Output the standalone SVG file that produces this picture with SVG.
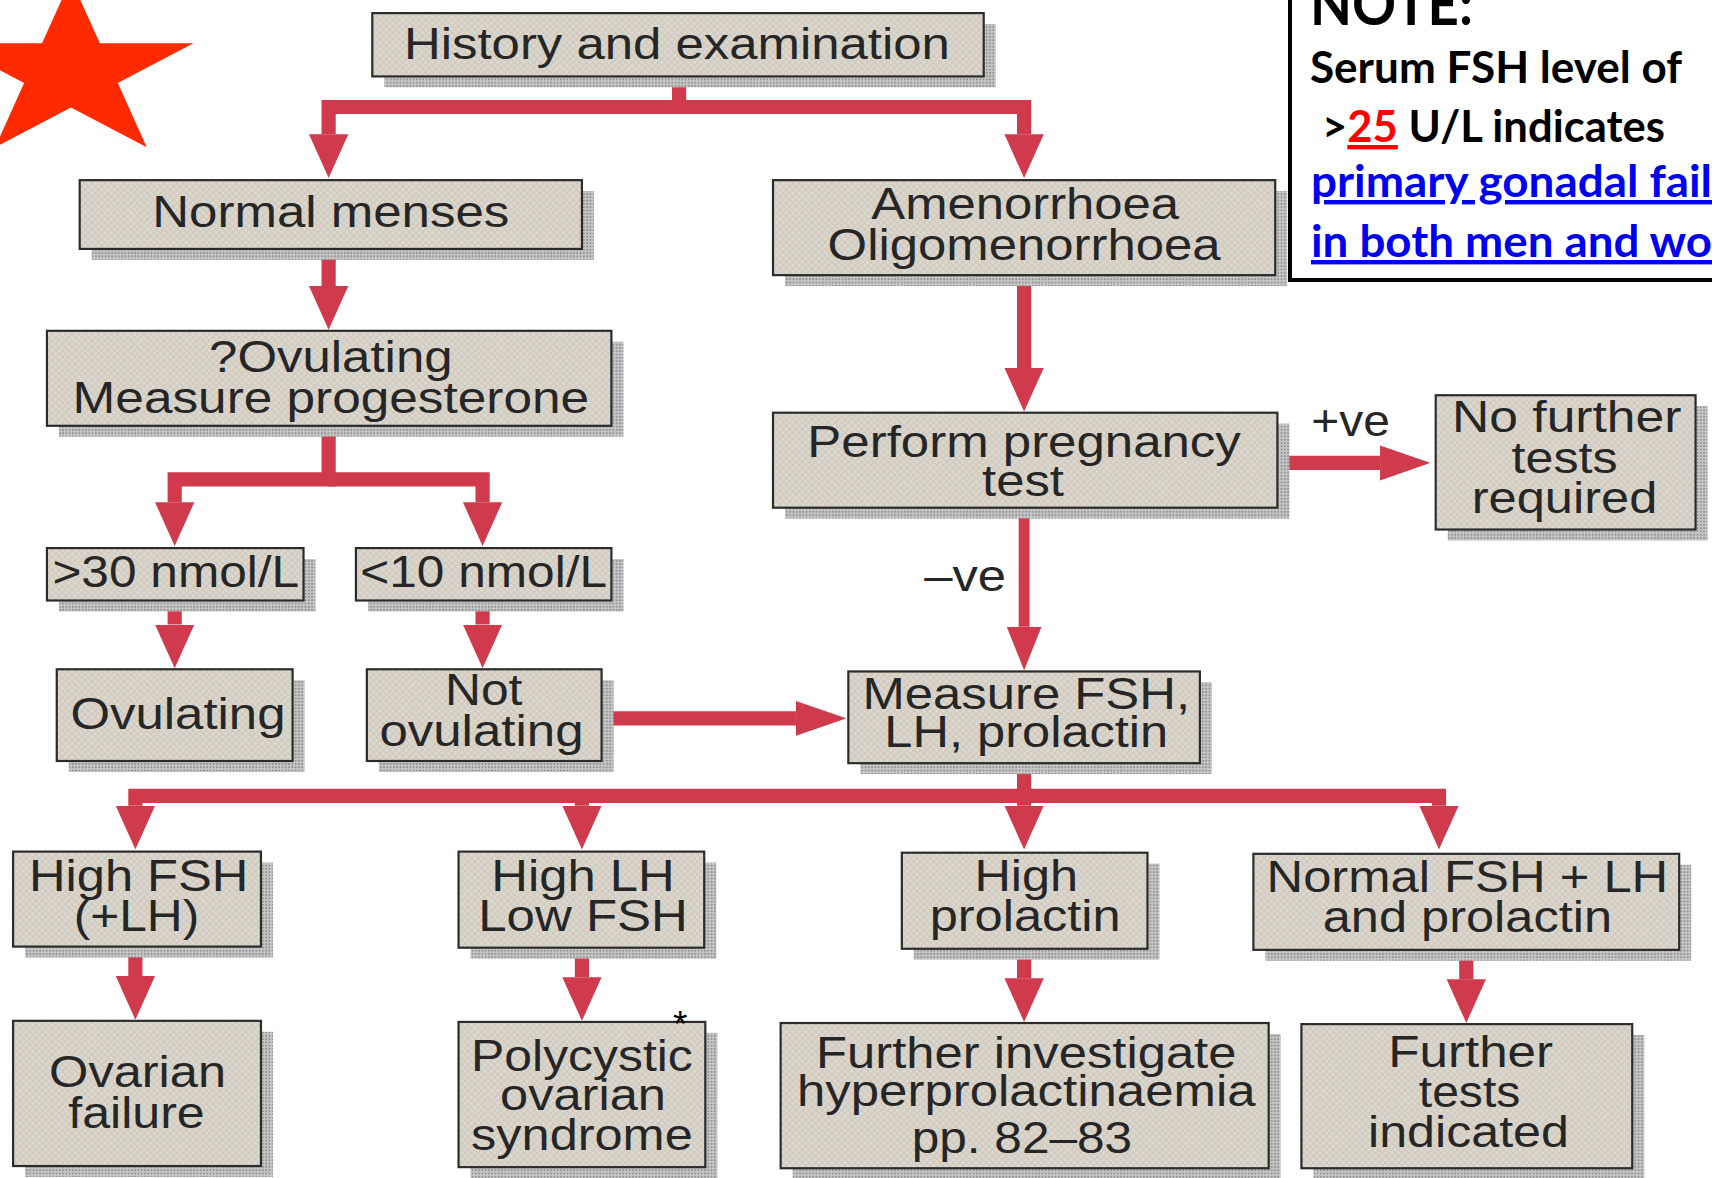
<svg xmlns="http://www.w3.org/2000/svg" width="1712" height="1178" viewBox="0 0 1712 1178">
<defs>
  <pattern id="hatch" width="6" height="6" patternUnits="userSpaceOnUse">
    <rect width="6" height="6" fill="#ddd8cf"/>
    <path d="M0,6 L6,0 M0,0 L6,6" stroke="#cdc7bb" stroke-width="1"/>
  </pattern>
  <pattern id="dots" width="3" height="3" patternUnits="userSpaceOnUse">
    <rect width="3" height="3" fill="#c4c4c4"/>
    <rect width="1.5" height="1.5" fill="#8f8f8f"/>
  </pattern>
  <marker id="ah" markerUnits="userSpaceOnUse" markerWidth="40" markerHeight="38" viewBox="0 0 40 38" refX="0" refY="19" orient="auto">
    <path d="M0,1 L40,19 L0,37 z" fill="#cf3a4c"/>
  </marker>
  <marker id="ahh" markerUnits="userSpaceOnUse" markerWidth="46" markerHeight="34" viewBox="0 0 46 34" refX="0" refY="17" orient="auto">
    <path d="M0,1 L46,17 L0,33 z" fill="#cf3a4c"/>
  </marker>
  <marker id="ahs" markerUnits="userSpaceOnUse" markerWidth="40" markerHeight="34" viewBox="0 0 40 34" refX="0" refY="17" orient="auto">
    <path d="M0,1 L40,17 L0,33 z" fill="#cf3a4c"/>
  </marker>
  <style>
    .sh { fill: url(#dots); }
    .bx { fill: url(#hatch); stroke: #2b2b2b; stroke-width: 2; }
    .t { font-family: "Liberation Sans", Arial, sans-serif; font-size: 40px; fill: #262626; text-anchor: middle; }
    .c { fill: none; stroke: #cf3a4c; stroke-width: 13; stroke-linejoin: miter; }
    .n { font-family: Lato, "Open Sans", sans-serif; font-weight: bold; }
  </style>
</defs>
<rect width="1712" height="1178" fill="#ffffff"/>

<g id="star">
  <polygon fill="#ff2a00" transform="scale(1.0918)" points="65,-19 91.5,39.7 177.2,39.7 107.9,76 134.4,134.8 65,98.5 -4.4,134.8 22.1,76 -47.2,39.7 38.5,39.7"/>
</g>

<g transform="scale(1.0918)">
  <g id="connectors">
    <path class="c" d="M622,70 V98 H301 V123" marker-end="url(#ah)"/>
    <path class="c" d="M622,98 H938 V123" marker-end="url(#ah)"/>
    <path class="c" d="M301,228 V262" marker-end="url(#ah)"/>
    <path class="c" d="M938,252 V337" marker-end="url(#ah)"/>
    <path class="c" d="M301,390 V439 H160 V460" marker-end="url(#ah)"/>
    <path class="c" d="M301,439 H442 V460" marker-end="url(#ah)"/>
    <path class="c" d="M160,550 V572" marker-end="url(#ah)"/>
    <path class="c" d="M442,550 V572" marker-end="url(#ah)"/>
    <path class="c" d="M551,658 H729" marker-end="url(#ahh)"/>
    <path class="c" d="M1170,424 H1264" marker-end="url(#ahh)"/>
    <path class="c" style="stroke-width:10" d="M938,465 V574" marker-end="url(#ahs)"/>
    <path class="c" d="M938,699 V729 H124 V738" marker-end="url(#ah)"/>
    <path class="c" d="M938,729 H1318 V738" marker-end="url(#ah)"/>
    <path class="c" d="M533,729 V738" marker-end="url(#ah)"/>
    <path class="c" d="M938,729 V738" marker-end="url(#ah)"/>
    <path class="c" d="M124,867 V894" marker-end="url(#ah)"/>
    <path class="c" d="M533,868 V895" marker-end="url(#ah)"/>
    <path class="c" d="M938,869 V896" marker-end="url(#ah)"/>
    <path class="c" d="M1343,870 V897" marker-end="url(#ah)"/>
    <text class="t" x="1237" y="399" textLength="72" lengthAdjust="spacingAndGlyphs">+ve</text>
    <text class="t" x="884" y="541" textLength="75" lengthAdjust="spacingAndGlyphs">–ve</text>
  </g>

  <g id="history">
    <rect class="sh" x="352" y="22" width="560" height="58"/>
    <rect class="bx" x="341" y="12" width="560" height="58"/>
    <text class="t" x="620" y="54" textLength="500" lengthAdjust="spacingAndGlyphs">History and examination</text>
  </g>
  <g id="normal-menses">
    <rect class="sh" x="84" y="175" width="460" height="63"/>
    <rect class="bx" x="73" y="165" width="460" height="63"/>
    <text class="t" x="303" y="208" textLength="327" lengthAdjust="spacingAndGlyphs">Normal menses</text>
  </g>
  <g id="amenorrhoea">
    <rect class="sh" x="719" y="175" width="460" height="87"/>
    <rect class="bx" x="708" y="165" width="460" height="87"/>
    <text class="t" x="939" y="201" textLength="282" lengthAdjust="spacingAndGlyphs">Amenorrhoea</text>
    <text class="t" x="938" y="238" textLength="360" lengthAdjust="spacingAndGlyphs">Oligomenorrhoea</text>
  </g>
  <g id="ovulating-q">
    <rect class="sh" x="54" y="313" width="517" height="87"/>
    <rect class="bx" x="43" y="303" width="517" height="87"/>
    <text class="t" x="303" y="341" textLength="223" lengthAdjust="spacingAndGlyphs">?Ovulating</text>
    <text class="t" x="303" y="378" textLength="473" lengthAdjust="spacingAndGlyphs">Measure progesterone</text>
  </g>
  <g id="pregnancy-test">
    <rect class="sh" x="719" y="388" width="462" height="87"/>
    <rect class="bx" x="708" y="378" width="462" height="87"/>
    <text class="t" x="938" y="419" textLength="397" lengthAdjust="spacingAndGlyphs">Perform pregnancy</text>
    <text class="t" x="937" y="454" textLength="75" lengthAdjust="spacingAndGlyphs">test</text>
  </g>
  <g id="no-further">
    <rect class="sh" x="1326" y="372" width="238" height="123"/>
    <rect class="bx" x="1315" y="362" width="238" height="123"/>
    <text class="t" x="1435" y="396" textLength="210" lengthAdjust="spacingAndGlyphs">No further</text>
    <text class="t" x="1433" y="433" textLength="97" lengthAdjust="spacingAndGlyphs">tests</text>
    <text class="t" x="1433" y="470" textLength="170" lengthAdjust="spacingAndGlyphs">required</text>
  </g>
  <g id="gt30">
    <rect class="sh" x="54" y="512" width="235" height="48"/>
    <rect class="bx" x="43" y="502" width="235" height="48"/>
    <text class="t" x="161" y="538" textLength="226" lengthAdjust="spacingAndGlyphs">&gt;30 nmol/L</text>
  </g>
  <g id="lt10">
    <rect class="sh" x="337" y="512" width="234" height="48"/>
    <rect class="bx" x="326" y="502" width="234" height="48"/>
    <text class="t" x="443" y="538" textLength="226" lengthAdjust="spacingAndGlyphs">&lt;10 nmol/L</text>
  </g>
  <g id="ovulating">
    <rect class="sh" x="63" y="623" width="216" height="84"/>
    <rect class="bx" x="52" y="613" width="216" height="84"/>
    <text class="t" x="163" y="668" textLength="197" lengthAdjust="spacingAndGlyphs">Ovulating</text>
  </g>
  <g id="not-ovulating">
    <rect class="sh" x="347" y="623" width="215" height="84"/>
    <rect class="bx" x="336" y="613" width="215" height="84"/>
    <text class="t" x="443" y="646" textLength="71" lengthAdjust="spacingAndGlyphs">Not</text>
    <text class="t" x="441" y="683" textLength="187" lengthAdjust="spacingAndGlyphs">ovulating</text>
  </g>
  <g id="measure-fsh">
    <rect class="sh" x="788" y="625" width="322" height="84"/>
    <rect class="bx" x="777" y="615" width="322" height="84"/>
    <text class="t" x="940" y="649" textLength="300" lengthAdjust="spacingAndGlyphs">Measure FSH,</text>
    <text class="t" x="940" y="684" textLength="260" lengthAdjust="spacingAndGlyphs">LH, prolactin</text>
  </g>
  <g id="high-fsh">
    <rect class="sh" x="23" y="790" width="227" height="87"/>
    <rect class="bx" x="12" y="780" width="227" height="87"/>
    <text class="t" x="127" y="816" textLength="201" lengthAdjust="spacingAndGlyphs">High FSH</text>
    <text class="t" x="125" y="853" textLength="115" lengthAdjust="spacingAndGlyphs">(+LH)</text>
  </g>
  <g id="high-lh">
    <rect class="sh" x="431" y="790" width="225" height="88"/>
    <rect class="bx" x="420" y="780" width="225" height="88"/>
    <text class="t" x="534" y="816" textLength="168" lengthAdjust="spacingAndGlyphs">High LH</text>
    <text class="t" x="534" y="853" textLength="192" lengthAdjust="spacingAndGlyphs">Low FSH</text>
  </g>
  <g id="high-prolactin">
    <rect class="sh" x="837" y="791" width="225" height="88"/>
    <rect class="bx" x="826" y="781" width="225" height="88"/>
    <text class="t" x="940" y="816" textLength="95" lengthAdjust="spacingAndGlyphs">High</text>
    <text class="t" x="939" y="853" textLength="175" lengthAdjust="spacingAndGlyphs">prolactin</text>
  </g>
  <g id="normal-fsh-lh">
    <rect class="sh" x="1159" y="792" width="390" height="88"/>
    <rect class="bx" x="1148" y="782" width="390" height="88"/>
    <text class="t" x="1344" y="817" textLength="368" lengthAdjust="spacingAndGlyphs">Normal FSH + LH</text>
    <text class="t" x="1344" y="854" textLength="265" lengthAdjust="spacingAndGlyphs">and prolactin</text>
  </g>
  <g id="ovarian-failure">
    <rect class="sh" x="23" y="945" width="227" height="133"/>
    <rect class="bx" x="12" y="935" width="227" height="133"/>
    <text class="t" x="126" y="996" textLength="162" lengthAdjust="spacingAndGlyphs">Ovarian</text>
    <text class="t" x="125" y="1033" textLength="125" lengthAdjust="spacingAndGlyphs">failure</text>
  </g>
  <g id="pcos">
    <rect class="sh" x="431" y="946" width="226" height="133"/>
    <rect class="bx" x="420" y="936" width="226" height="133"/>
    <text class="t" x="533" y="981" textLength="203" lengthAdjust="spacingAndGlyphs">Polycystic</text>
    <text class="t" x="534" y="1017" textLength="152" lengthAdjust="spacingAndGlyphs">ovarian</text>
    <text class="t" x="533" y="1053" textLength="203" lengthAdjust="spacingAndGlyphs">syndrome</text>
    <text x="623" y="950" font-family="Liberation Sans, sans-serif" font-size="34" fill="#000" text-anchor="middle">*</text>
  </g>
  <g id="hyperprolactinaemia">
    <rect class="sh" x="726" y="947" width="447" height="133"/>
    <rect class="bx" x="715" y="937" width="447" height="133"/>
    <text class="t" x="940" y="978" textLength="385" lengthAdjust="spacingAndGlyphs">Further investigate</text>
    <text class="t" x="940" y="1013" textLength="420" lengthAdjust="spacingAndGlyphs">hyperprolactinaemia</text>
    <text class="t" x="936" y="1056" textLength="202" lengthAdjust="spacingAndGlyphs">pp. 82–83</text>
  </g>
  <g id="further-tests">
    <rect class="sh" x="1203" y="948" width="303" height="132"/>
    <rect class="bx" x="1192" y="938" width="303" height="132"/>
    <text class="t" x="1347" y="977" textLength="151" lengthAdjust="spacingAndGlyphs">Further</text>
    <text class="t" x="1346" y="1014" textLength="93" lengthAdjust="spacingAndGlyphs">tests</text>
    <text class="t" x="1345" y="1051" textLength="184" lengthAdjust="spacingAndGlyphs">indicated</text>
  </g>
</g>

<g id="note">
  <rect x="1290" y="-10" width="440" height="290" fill="#ffffff" stroke="#000000" stroke-width="4"/>
  <text class="n" x="1310" y="25" font-size="60" fill="#000" textLength="163" lengthAdjust="spacingAndGlyphs">NOTE:</text>
  <text class="n" x="1310" y="83" font-size="44" fill="#000" textLength="372" lengthAdjust="spacingAndGlyphs">Serum FSH level of</text>
  <text class="n" x="1322" y="142" font-size="44" fill="#000" textLength="343" lengthAdjust="spacingAndGlyphs">&gt;<tspan fill="#ff0000" text-decoration="underline">25</tspan> U/L indicates</text>
  <text class="n" x="1311" y="197" font-size="44" fill="#0000f0" text-decoration="underline" textLength="401" lengthAdjust="spacingAndGlyphs">primary gonadal fail</text>
  <text class="n" x="1311" y="257" font-size="44" fill="#0000f0" text-decoration="underline" textLength="401" lengthAdjust="spacingAndGlyphs">in both men and wo</text>
</g>
</svg>
